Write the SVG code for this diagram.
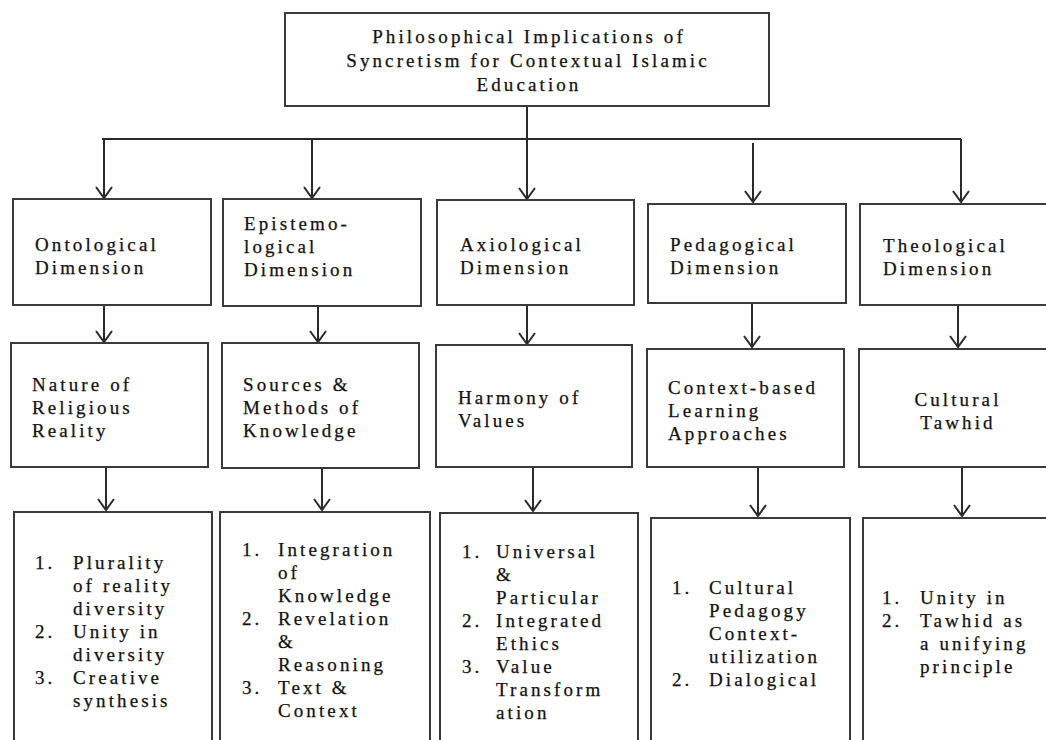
<svg xmlns="http://www.w3.org/2000/svg" width="1046" height="740" viewBox="0 0 1046 740">
<defs>
<style>
.box{fill:#fff;stroke:#3a3a3a;stroke-width:2}
.ln{fill:none;stroke:#2a2a2a;stroke-width:2}
.arr{fill:none;stroke:#2a2a2a;stroke-width:2;marker-end:url(#v)}
text{font-family:"Liberation Serif","Times New Roman",serif;font-size:19px;fill:#111;letter-spacing:3.1px;stroke:#111;stroke-width:0.25}
.c{text-anchor:middle}
</style>
<marker id="v" markerUnits="userSpaceOnUse" viewBox="-12 -10 14 20" markerWidth="14" markerHeight="20" refX="0" refY="0" orient="auto" overflow="visible">
<path d="M-11,-8 L0,0 L-11,8" fill="none" stroke="#2a2a2a" stroke-width="2"/>
</marker>
</defs>
<rect width="1046" height="740" fill="#fff"/>

<g id="connectors">
<line class="ln" x1="102" y1="139" x2="961" y2="139"/>
<line class="arr" x1="104" y1="139" x2="104" y2="198"/>
<line class="arr" x1="312" y1="139" x2="312" y2="198"/>
<line class="arr" x1="527" y1="106" x2="527" y2="199"/>
<line class="arr" x1="753" y1="143" x2="753" y2="202"/>
<line class="arr" x1="961" y1="139" x2="961" y2="202"/>
<line class="arr" x1="104" y1="305" x2="104" y2="342"/>
<line class="arr" x1="318" y1="306" x2="318" y2="342"/>
<line class="arr" x1="527" y1="305" x2="527" y2="344"/>
<line class="arr" x1="752" y1="303" x2="752" y2="347"/>
<line class="arr" x1="958" y1="305" x2="958" y2="347"/>
<line class="arr" x1="106" y1="467" x2="106" y2="510"/>
<line class="arr" x1="322" y1="468" x2="322" y2="510"/>
<line class="arr" x1="533" y1="467" x2="533" y2="511"/>
<line class="arr" x1="758" y1="467" x2="758" y2="516"/>
<line class="arr" x1="962" y1="467" x2="962" y2="516"/>
</g>

<g id="root">
<rect class="box" x="285" y="13" width="484" height="93"/>
<text class="c" x="529" y="43">Philosophical Implications of</text>
<text class="c" x="528" y="67">Syncretism for Contextual Islamic</text>
<text class="c" x="529" y="91">Education</text>
</g>

<g id="ontological">
<rect class="box" x="13" y="199" width="198" height="106"/>
<text x="35" y="251">Ontological</text>
<text x="35" y="274">Dimension</text>
</g>
<g id="epistemological">
<rect class="box" x="223" y="199" width="198" height="107"/>
<text x="244" y="230">Epistemo-</text>
<text x="244" y="253">logical</text>
<text x="244" y="276">Dimension</text>
</g>
<g id="axiological">
<rect class="box" x="437" y="200" width="197" height="105"/>
<text x="460" y="251">Axiological</text>
<text x="460" y="274">Dimension</text>
</g>
<g id="pedagogical">
<rect class="box" x="648" y="204" width="198" height="99"/>
<text x="670" y="251">Pedagogical</text>
<text x="670" y="274">Dimension</text>
</g>
<g id="theological">
<rect class="box" x="860" y="204" width="200" height="101"/>
<text x="883" y="252">Theological</text>
<text x="883" y="275">Dimension</text>
</g>

<g id="nature">
<rect class="box" x="11" y="343" width="197" height="124"/>
<text x="32" y="391">Nature of</text>
<text x="32" y="414">Religious</text>
<text x="32" y="437">Reality</text>
</g>
<g id="sources">
<rect class="box" x="222" y="343" width="197" height="125"/>
<text x="243" y="391">Sources &amp;</text>
<text x="243" y="414">Methods of</text>
<text x="243" y="437">Knowledge</text>
</g>
<g id="harmony">
<rect class="box" x="436" y="345" width="196" height="122"/>
<text x="458" y="404">Harmony of</text>
<text x="458" y="427">Values</text>
</g>
<g id="context">
<rect class="box" x="647" y="349" width="197" height="118"/>
<text x="668" y="394">Context-based</text>
<text x="668" y="417">Learning</text>
<text x="668" y="440">Approaches</text>
</g>
<g id="cultural">
<rect class="box" x="859" y="349" width="200" height="118"/>
<text class="c" x="958" y="406">Cultural</text>
<text class="c" x="958" y="429">Tawhid</text>
</g>

<g id="list1">
<rect class="box" x="14" y="512" width="198" height="240"/>
<text x="35" y="569">1.</text><text x="73" y="569">Plurality</text>
<text x="73" y="592">of reality</text>
<text x="73" y="615">diversity</text>
<text x="35" y="638">2.</text><text x="73" y="638">Unity in</text>
<text x="73" y="661">diversity</text>
<text x="35" y="684">3.</text><text x="73" y="684">Creative</text>
<text x="73" y="707">synthesis</text>
</g>
<g id="list2">
<rect class="box" x="220" y="512" width="210" height="240"/>
<text x="242" y="556">1.</text><text x="278" y="556">Integration</text>
<text x="278" y="579">of</text>
<text x="278" y="602">Knowledge</text>
<text x="242" y="625">2.</text><text x="278" y="625">Revelation</text>
<text x="278" y="648">&amp;</text>
<text x="278" y="671">Reasoning</text>
<text x="242" y="694">3.</text><text x="278" y="694">Text &amp;</text>
<text x="278" y="717">Context</text>
</g>
<g id="list3">
<rect class="box" x="440" y="513" width="198" height="240"/>
<text x="462" y="558">1.</text><text x="496" y="558">Universal</text>
<text x="496" y="581">&amp;</text>
<text x="496" y="604">Particular</text>
<text x="462" y="627">2.</text><text x="496" y="627">Integrated</text>
<text x="496" y="650">Ethics</text>
<text x="462" y="673">3.</text><text x="496" y="673">Value</text>
<text x="496" y="696">Transform</text>
<text x="496" y="719">ation</text>
</g>
<g id="list4">
<rect class="box" x="651" y="518" width="199" height="240"/>
<text x="672" y="594">1.</text><text x="709" y="594">Cultural</text>
<text x="709" y="617">Pedagogy</text>
<text x="709" y="640">Context-</text>
<text x="709" y="663">utilization</text>
<text x="672" y="686">2.</text><text x="709" y="686">Dialogical</text>
</g>
<g id="list5">
<rect class="box" x="863" y="518" width="200" height="240"/>
<text x="882" y="604">1.</text><text x="920" y="604">Unity in</text>
<text x="882" y="627">2.</text><text x="920" y="627">Tawhid as</text>
<text x="920" y="650">a unifying</text>
<text x="920" y="673">principle</text>
</g>
</svg>
